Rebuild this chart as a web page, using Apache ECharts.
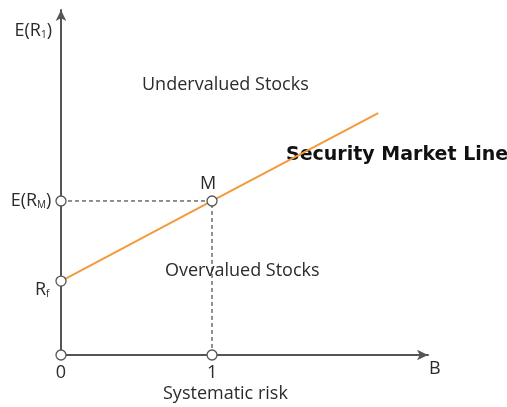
<!DOCTYPE html>
<html>
<head>
<meta charset="utf-8">
<script src="https://cdn.jsdelivr.net/npm/echarts@6/dist/echarts.min.js"></script>
<style>
  html, body { margin: 0; padding: 0; background: #fff; }
  #chart { width: 507px; height: 407px; }
</style>
</head>
<body>
<div id="chart"></div>
<script>
  // beta (x) and expected return (y)
  var smlBeta = [0, 1, 2.1];
  var smlReturn = [0.48, 1.0, 1.57];
  var riskFree = 0.48;
  var marketReturn = 1.0;
  var marketBeta = 1;
  var xMax = 2.43;
  var yMax = 2.24;

  var font = '"Open Sans", "Noto Sans", sans-serif';
  var sub = { fontSize: 10, fontFamily: font, color: '#2b2b2b', verticalAlign: 'bottom', padding: [8, 0, 0, 0] };
  var rich = { s: sub };

  var chart = echarts.init(document.getElementById('chart'));

  var dot = function (x, y, label) {
    return { value: [x, y], label: label };
  };

  var option = {
    animation: false,
    grid: { left: 61, right: 79, top: 10, bottom: 52 },
    xAxis: {
      type: 'value',
      min: 0,
      max: xMax,
      axisLine: { lineStyle: { color: '#555', width: 2 }, symbol: ['none', 'arrow'], symbolSize: [8, 11] },
      axisTick: { show: false },
      axisLabel: { show: false },
      splitLine: { show: false }
    },
    yAxis: {
      type: 'value',
      min: 0,
      max: yMax,
      name: 'E(R{s|1})',
      nameLocation: 'end',
      nameGap: -30,
      nameTextStyle: { fontFamily: font, fontSize: 18, color: '#2b2b2b', align: 'right', padding: [0, 9, 0, 0], rich: rich },
      axisLine: { lineStyle: { color: '#555', width: 2 }, symbol: ['none', 'arrow'], symbolSize: [8, 11] },
      axisTick: { show: false },
      axisLabel: { show: false },
      splitLine: { show: false }
    },
    series: [
      {
        type: 'line',
        data: [[0, marketReturn], [marketBeta, marketReturn], [marketBeta, 0]],
        symbol: 'none',
        z: 2,
        lineStyle: { color: '#222', width: 1, type: [4, 3] }
      },
      {
        type: 'line',
        data: smlBeta.map(function (b, i) { return [b, smlReturn[i]]; }),
        symbol: 'none',
        z: 3,
        lineStyle: { color: '#f39a3a', width: 2 }
      },
      {
        type: 'scatter',
        symbol: 'circle',
        symbolSize: 10,
        z: 5,
        itemStyle: { color: '#fff', borderColor: '#555', borderWidth: 1.3, opacity: 1 },
        label: { show: true, fontFamily: font, fontSize: 18, color: '#2b2b2b', rich: rich },
        data: [
          dot(0, 0, { formatter: '0', position: 'bottom', distance: 3 }),
          dot(marketBeta, 0, { formatter: '1', position: 'bottom', distance: 3 }),
          dot(0, riskFree, { formatter: 'R{s|f}', position: 'left', distance: 6, offset: [0, 9] }),
          dot(0, marketReturn, { formatter: 'E(R{s|M})', position: 'left', distance: 4 }),
          dot(marketBeta, marketReturn, { formatter: 'M', position: 'top', distance: 2, offset: [-4, 0] })
        ]
      }
    ],
    graphic: [
      { type: 'text', left: 142, top: 76, style: { text: 'Undervalued Stocks', font: '18px ' + font, fill: '#2b2b2b' } },
      { type: 'text', left: 165, top: 262, style: { text: 'Overvalued Stocks', font: '18px ' + font, fill: '#2b2b2b' } },
      { type: 'text', left: 286, top: 146, style: { text: 'Security Market Line', font: 'bold 19px "DejaVu Sans", sans-serif', fill: '#111' } },
      { type: 'text', left: 163, top: 385, style: { text: 'Systematic risk', font: '18px ' + font, fill: '#2b2b2b' } },
      { type: 'text', left: 429, top: 360, style: { text: 'B', font: '18px ' + font, fill: '#2b2b2b' } }
    ]
  };

  chart.setOption(option);
</script>
</body>
</html>
